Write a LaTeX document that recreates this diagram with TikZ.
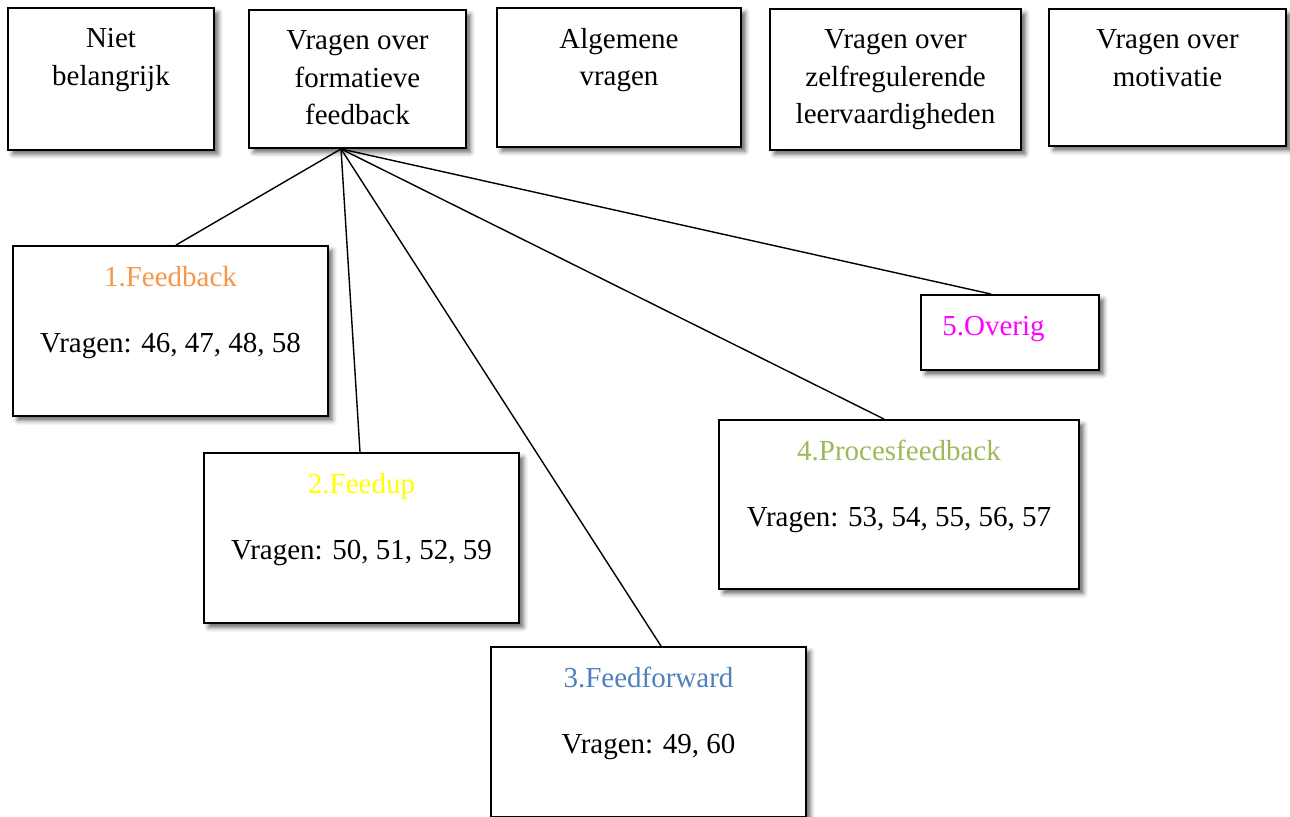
\documentclass[tikz,border=0pt]{standalone}
\usepackage{fontspec}
\setmainfont{Liberation Serif}
\usepackage{tikz}
\usetikzlibrary{shadows.blur}

\definecolor{fbOrange}{HTML}{F79646}
\definecolor{fuYellow}{HTML}{FFFF00}
\definecolor{ffBlue}{HTML}{4F81BD}
\definecolor{pfGreen}{HTML}{9BBB59}
\definecolor{ovMagenta}{HTML}{FF00FF}

\begin{document}
\begin{tikzpicture}[
    x=0.02cm, y=-0.02cm,
    box/.style={draw, line width=1.1pt, fill=white, inner sep=0pt,
        blur shadow={shadow xshift=2.5pt, shadow yshift=-2.5pt, shadow blur radius=2.5pt, shadow opacity=60}},
    txt/.style={font=\fontsize{16.5}{21.5}\selectfont, align=center, inner sep=0pt},
    lnk/.style={line width=0.8pt}
]
\useasboundingbox (0,0) rectangle (1290,817);

% Top row
\node[box, minimum width=4.12cm, minimum height=2.84cm] (niet) at (111, 79) {};
\node[box, minimum width=4.34cm, minimum height=2.76cm] (form) at (357.5, 79) {};
\node[box, minimum width=4.88cm, minimum height=2.78cm] (alg) at (619, 77.5) {};
\node[box, minimum width=5.02cm, minimum height=2.82cm] (zelf) at (895.5, 79.5) {};
\node[box, minimum width=4.74cm, minimum height=2.74cm] (mot) at (1167.5, 77.5) {};

\node[txt, anchor=north] (nietT) at ([yshift=-0.42cm]niet.north) {Niet\\belangrijk};
\node[txt, anchor=north] (formT) at ([yshift=-0.42cm]form.north) {Vragen over\\formatieve\\feedback};
\node[txt, anchor=north] (algT) at ([yshift=-0.41cm]alg.north) {Algemene\\vragen};
\node[txt, anchor=north] (zelfT) at ([yshift=-0.42cm]zelf.north) {Vragen over\\zelfregulerende\\leervaardigheden};
\node[txt, anchor=north] (motT) at ([yshift=-0.42cm]mot.north) {Vragen over\\motivatie};

% Feedback categories
\node[box, minimum width=6.3cm, minimum height=3.4cm] (fb) at (170.5, 331) {};
\node[box, minimum width=6.3cm, minimum height=3.4cm] (fu) at (361.5, 538) {};
\node[box, minimum width=6.3cm, minimum height=3.4cm] (ff) at (648.5, 732) {};
\node[box, minimum width=7.2cm, minimum height=3.38cm] (pf) at (899, 504.5) {};
\node[box, minimum width=3.56cm, minimum height=1.5cm] (ov) at (1010, 332.5) {};

\node[txt, anchor=base, text=fbOrange] (fbT) at ([yshift=-0.82cm]fb.north) {1.Feedback};
\node[txt, anchor=base] (fbQ) at ([yshift=-2.14cm]fb.north) {Vragen: 46, 47, 48, 58};
\node[txt, anchor=base, text=fuYellow] (fuT) at ([yshift=-0.82cm]fu.north) {2.Feedup};
\node[txt, anchor=base] (fuQ) at ([yshift=-2.14cm]fu.north) {Vragen: 50, 51, 52, 59};
\node[txt, anchor=base, text=ffBlue] (ffT) at ([yshift=-0.82cm]ff.north) {3.Feedforward};
\node[txt, anchor=base] (ffQ) at ([yshift=-2.14cm]ff.north) {Vragen: 49, 60};
\node[txt, anchor=base, text=pfGreen] (pfT) at ([yshift=-0.82cm]pf.north) {4.Procesfeedback};
\node[txt, anchor=base] (pfQ) at ([yshift=-2.14cm]pf.north) {Vragen: 53, 54, 55, 56, 57};
\node[txt, anchor=base west, text=ovMagenta] (ovT) at ([xshift=0.44cm, yshift=-0.82cm]ov.north west) {5.Overig};

% Links from formatieve feedback
\coordinate (hub) at ([xshift=-0.33cm]form.south);
\draw[lnk] (hub) -- ([xshift=0.11cm]fb.north);
\draw[lnk] (hub) -- ([xshift=-0.03cm]fu.north);
\draw[lnk] (hub) -- ([xshift=0.25cm]ff.north);
\draw[lnk] (hub) -- ([xshift=-0.3cm]pf.north);
\draw[lnk] (hub) -- ([xshift=-0.38cm]ov.north);
\end{tikzpicture}
\end{document}
